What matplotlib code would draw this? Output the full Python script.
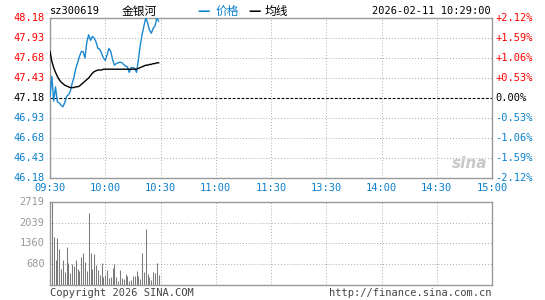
import numpy as np
import matplotlib
matplotlib.use("Agg")
import matplotlib.pyplot as plt

plt.rcParams['font.family'] = ['DejaVu Sans Mono', 'Noto Sans CJK SC']

# --- data ---
prev_close = 47.18
price = [47.20, 47.45, 47.14, 47.32, 47.13, 47.12, 47.09, 47.07, 47.12, 47.20,
         47.22, 47.26, 47.36, 47.44, 47.55, 47.62, 47.70, 47.76, 47.76, 47.68,
         47.88, 47.97, 47.90, 47.95, 47.93, 47.88, 47.80, 47.79, 47.74, 47.68,
         47.65, 47.72, 47.80, 47.76, 47.66, 47.59, 47.61, 47.62, 47.63, 47.62,
         47.60, 47.58, 47.57, 47.50, 47.56, 47.56, 47.55, 47.50, 47.66, 47.84,
         47.97, 48.08, 48.18, 48.12, 48.03, 47.99, 48.05, 48.08, 48.18, 48.14]
avg_price = [47.76, 47.64, 47.56, 47.50, 47.45, 47.41, 47.38, 47.36, 47.34, 47.33,
             47.32, 47.31, 47.31, 47.31, 47.32, 47.32, 47.33, 47.35, 47.37, 47.39,
             47.41, 47.43, 47.46, 47.49, 47.51, 47.52, 47.53, 47.53, 47.53, 47.54,
             47.54, 47.54, 47.54, 47.54, 47.54, 47.54, 47.54, 47.54, 47.54, 47.54,
             47.54, 47.54, 47.54, 47.54, 47.54, 47.54, 47.54, 47.54, 47.55, 47.56,
             47.57, 47.58, 47.59, 47.59, 47.60, 47.60, 47.61, 47.61, 47.62, 47.62]
volume = [1050, 2719, 1572, 819, 1540, 1179, 524, 819, 426, 1245,
          721, 393, 688, 622, 819, 524, 459, 917, 1048, 753,
          459, 2359, 1048, 524, 1015, 655, 491, 328, 721, 262,
          328, 491, 229, 262, 557, 688, 262, 131, 491, 229,
          197, 360, 295, 131, 164, 295, 295, 459, 295, 200,
          1048, 426, 1835, 360, 262, 164, 426, 393, 721, 328]
time_labels = ['09:30', '10:00', '10:30', '11:00', '11:30',
               '13:30', '14:00', '14:30', '15:00']
price_ticks = [46.18, 46.43, 46.68, 46.93, 47.18, 47.43, 47.68, 47.93, 48.18]
vol_ticks = [680, 1360, 2039, 2719]

RED = '#ff0000'
BLUE = '#0a80cc'
GRIDC = '#aaaaaa'
FRAME = '#999999'

minutes = np.arange(len(price))
W, H = 545, 300
fig = plt.figure(figsize=(W / 100, H / 100), dpi=100)

def fx(px):
    return px / W

def fy(py):
    return 1 - py / H

# price panel
ax = fig.add_axes([fx(50), fy(178), fx(442), fy(18) - fy(178)])
ax.set_xlim(0, 240)
ax.set_ylim(46.18, 48.18)
for t in price_ticks[1:-1]:
    if t == prev_close:
        ax.axhline(t, color='black', lw=0.8, ls=(0, (2.5, 1.5)), zorder=1)
    else:
        ax.axhline(t, color=GRIDC, lw=0.7, ls=(0, (1, 2)), zorder=1)
for m in range(30, 240, 30):
    ax.axvline(m, color=GRIDC, lw=0.7, ls=(0, (1, 2)), zorder=1)
ax.plot(minutes, price, color='#1a87d0', lw=1.0, zorder=3)
ax.plot(minutes, avg_price, color='black', lw=1.0, zorder=3)
ax.set_xticks([])
ax.set_yticks([])
for s in ax.spines.values():
    s.set_color(FRAME)
    s.set_linewidth(1.0)

# left price labels and right percent labels
for t in price_ticks:
    c = RED if t > prev_close + 1e-9 else ('black' if abs(t - prev_close) < 1e-9 else BLUE)
    ax.text(-0.012, (t - 46.18) / 2.0, f'{t:.2f}', transform=ax.transAxes,
            ha='right', va='center', fontsize=7.5, color=c)
    pct = (t - prev_close) / prev_close * 100
    if abs(pct) < 1e-9:
        lab = '0.00%'
    else:
        lab = f'{pct:+.2f}%'
    ax.text(1.008, (t - 46.18) / 2.0, lab, transform=ax.transAxes,
            ha='left', va='center', fontsize=7.5, color=c)

# time labels
for i, lab in enumerate(time_labels):
    fig.text(fx(50 + i * 55.25), fy(188), lab, ha='center', va='center',
             fontsize=7.5, color=BLUE)

# volume panel
vax = fig.add_axes([fx(50), fy(285), fx(442), fy(202) - fy(285)])
vax.set_xlim(0, 240)
vax.set_ylim(0, 2719)
for t in vol_ticks[:-1]:
    vax.axhline(t, color=GRIDC, lw=0.7, ls=(0, (1, 2)), zorder=1)
for m in range(30, 240, 30):
    vax.axvline(m, color=GRIDC, lw=0.7, ls=(0, (1, 2)), zorder=1)
vax.vlines(minutes, 0, volume, colors='#7a7a7a', lw=0.75, zorder=2)
vax.set_xticks([])
vax.set_yticks([])
for s in vax.spines.values():
    s.set_color(FRAME)
    s.set_linewidth(1.0)
for t in vol_ticks:
    vax.text(-0.012, t / 2719, str(t), transform=vax.transAxes,
             ha='right', va='center', fontsize=7.5, color='#999999')

# header
fig.text(fx(50), fy(11), 'sz300619', ha='left', va='center', fontsize=7.5, color='black')
fig.text(fx(139), fy(11), '金银河', ha='center', va='center', fontsize=8.5,
         color='black', family=['Noto Sans CJK SC'])
fig.text(fx(204), fy(11), '\u2014', ha='center', va='center', fontsize=9,
         color=BLUE, fontweight='bold', family=['DejaVu Sans'])
fig.text(fx(216), fy(11), '价格', ha='left', va='center', fontsize=8.5,
         color=BLUE, family=['Noto Sans CJK SC'])
fig.text(fx(255), fy(11), '\u2014', ha='center', va='center', fontsize=9,
         color='black', fontweight='bold', family=['DejaVu Sans'])
fig.text(fx(265), fy(11), '均线', ha='left', va='center', fontsize=8.5,
         color='black', family=['Noto Sans CJK SC'])
fig.text(fx(491), fy(11), '2026-02-11 10:29:00', ha='right', va='center',
         fontsize=7.5, color='black')

# sina watermark
fig.text(fx(470), fy(163), 'sina', ha='center', va='center', fontsize=11,
         style='italic', fontweight='bold', color='#c8c8c8', family=['DejaVu Sans'])

# footer
fig.text(fx(50), fy(293), 'Copyright 2026 SINA.COM', ha='left', va='center',
         fontsize=7.5, color='#444444')
fig.text(fx(491), fy(293), 'http://finance.sina.com.cn', ha='right', va='center',
         fontsize=7.5, color='#444444')

fig.savefig('out.png', dpi=100, facecolor='white')
